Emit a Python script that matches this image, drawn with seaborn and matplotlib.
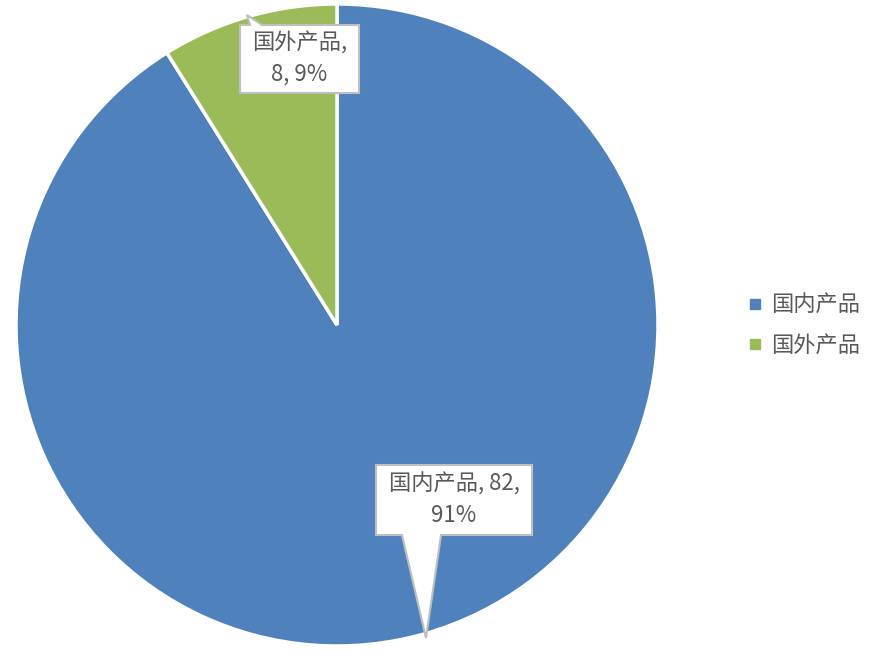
import matplotlib.pyplot as plt
from matplotlib.patches import Polygon
from matplotlib.lines import Line2D
import seaborn as sns

labels = ['国内产品', '国外产品']
values = [82, 8]
percents = ['91%', '9%']
colors = ['#4F81BD', '#9BBB59']

sns.set_theme(style='white')
plt.rcParams['font.family'] = ['Noto Sans CJK SC', 'DejaVu Sans']

W, H = 877, 671
fig = plt.figure(figsize=(W / 100, H / 100), dpi=100)
ax = fig.add_axes([0, 0, 1, 1])

# pie in pixel-like coords (y flipped)
wedges, _ = ax.pie(values, colors=colors, startangle=90, counterclock=False,
                   center=(337, H - 325), radius=321,
                   wedgeprops=dict(edgecolor='white', linewidth=2.5))
ax.set_xlim(0, W)
ax.set_ylim(0, H)
ax.set_aspect('equal')
ax.axis('off')


def callout(box, base, tip, text):
    x0, y0, x1, y1 = box
    if base[2] == 'top':
        pts = [(x0, y0), (base[0], y0), tip, (base[1], y0), (x1, y0), (x1, y1), (x0, y1)]
    else:
        pts = [(x0, y0), (x1, y0), (x1, y1), (base[1], y1), tip, (base[0], y1), (x0, y1)]
    pts = [(px, H - py) for px, py in pts]
    ax.add_patch(Polygon(pts, closed=True, facecolor='white', edgecolor='#BFBFBF',
                         linewidth=1.5, zorder=5))
    ax.text((x0 + x1) / 2, H - (y0 + y1) / 2, text, ha='center', va='center',
            fontsize=16, color='#595959', zorder=6, linespacing=1.45)


callout((240, 25, 359, 93), (250, 262, 'top'), (247, 15),
        f'{labels[1]},\n{values[1]}, {percents[1]}')
callout((376, 465, 532, 535), (402, 441, 'bottom'), (426, 638),
        f'{labels[0]}, {values[0]},\n{percents[0]}')

handles = [Line2D([0], [0], marker='s', linestyle='', markersize=7,
                  markerfacecolor=c, markeredgecolor=c) for c in colors]
ax.legend(handles, labels, loc='center left', frameon=False,
          bbox_to_anchor=(724 / W, 1 - 325 / H), fontsize=16,
          labelcolor='#595959', handletextpad=0.2, labelspacing=0.75,
          handlelength=1.0)

fig.savefig('out.png', dpi=100, facecolor='white')
